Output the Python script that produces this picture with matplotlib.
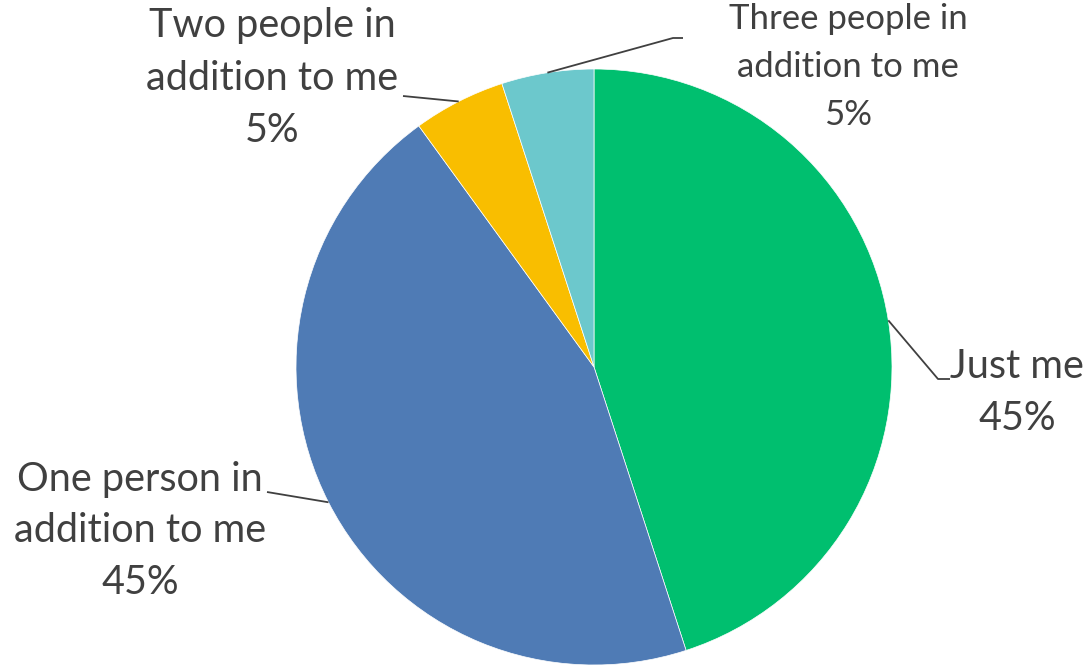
import numpy as np
import matplotlib.pyplot as plt

labels = ['Just me', 'One person in\naddition to me', 'Two people in\naddition to me', 'Three people in\naddition to me']
shares = [45, 45, 5, 5]
colors = ['#00BF6F', '#4F7BB5', '#F9BE00', '#6CC8CC']

W, H = 1090, 668
CX, CY, R = 594, H - 367, 298

fig = plt.figure(figsize=(W / 100, H / 100), dpi=100)
ax = fig.add_axes([0, 0, 1, 1])
wedges, _ = ax.pie(shares, colors=colors, startangle=90, counterclock=False,
                   radius=R, center=(CX, CY),
                   wedgeprops=dict(linewidth=0.5, edgecolor='white'))
ax.set_xlim(0, W)
ax.set_ylim(0, H)
ax.set_aspect('equal')
ax.axis('off')

# label text centre, font size, line spacing, leader path (pixel coords from top)
layout = [
    ((1017, 393), 28.5, 1.5, [(938, 379), (950, 379)]),
    ((140, 531), 28.5, 1.5, [(267, 492)]),
    ((272, 78), 28.5, 1.5, [(403, 96)]),
    ((848, 67), 25, 1.62, [(673, 38), (683, 38)]),
]

for w, lab, val, (pos, fs, ls, path) in zip(wedges, labels, shares, layout):
    mid = np.deg2rad((w.theta1 + w.theta2) / 2)
    pts = [(CX + R * np.cos(mid), CY + R * np.sin(mid))]
    pts += [(x, H - y) for x, y in path]
    xs, ys = zip(*pts)
    ax.plot(xs, ys, color='#404040', lw=1.3, solid_capstyle='butt')
    ax.text(pos[0], H - pos[1], f'{lab}\n{val}%', ha='center', va='center',
            fontsize=fs, linespacing=ls, color='#404040', family=['Lato', 'DejaVu Sans'])

fig.savefig('out.png', dpi=100)
